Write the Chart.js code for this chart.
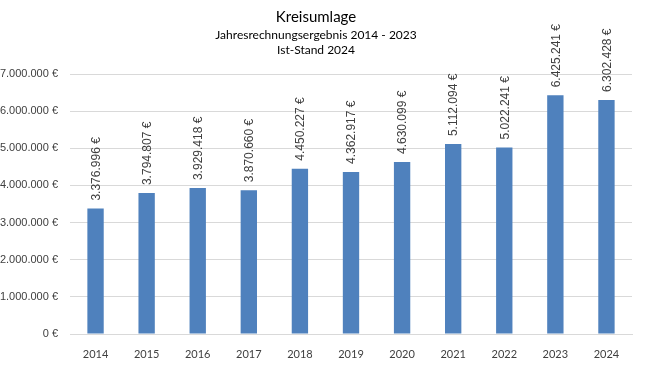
<!DOCTYPE html>
<html>
<head>
<meta charset="utf-8">
<script src="https://cdn.jsdelivr.net/npm/chart.js@4"></script>
<style>
  html, body { margin: 0; padding: 0; background: #fff; }
  #wrap { width: 646px; height: 365px; }
</style>
</head>
<body>
<div id="wrap"><canvas id="kreisChart" width="646" height="365"></canvas></div>
<script>
// Kreisumlage per year (EUR)
const years = ['2014', '2015', '2016', '2017', '2018', '2019', '2020', '2021', '2022', '2023', '2024'];
const amounts = [3376996, 3794807, 3929418, 3870660, 4450227, 4362917, 4630099, 5112094, 5022241, 6425241, 6302428];
const titleText = 'Kreisumlage';
const subtitleLines = ['Jahresrechnungsergebnis 2014 - 2023', 'Ist-Stand 2024'];

const fmtEuro = v => Math.round(v).toString().replace(/\B(?=(\d{3})+(?!\d))/g, '.') + ' €';

// draws the rotated value labels above each bar
const barLabels = {
    id: 'barLabels',
    afterDatasetsDraw(chart) {
        const ctx = chart.ctx;
        const meta = chart.getDatasetMeta(0);
        ctx.save();
        ctx.font = '12px "Liberation Sans", Arial, sans-serif';
        ctx.fillStyle = '#404040';
        ctx.textAlign = 'left';
        ctx.textBaseline = 'middle';
        meta.data.forEach((bar, i) => {
            ctx.save();
            ctx.translate(bar.x + 1, bar.y - 8);
            ctx.rotate(-Math.PI / 2);
            ctx.fillText(fmtEuro(amounts[i]), 0, 0);
            ctx.restore();
        });
        ctx.restore();
    }
};

new Chart(document.getElementById('kreisChart'), {
    type: 'bar',
    data: {
        labels: years,
        datasets: [{
            data: amounts,
            backgroundColor: '#4f81bd',
            categoryPercentage: 1,
            barPercentage: 0.32
        }]
    },
    options: {
        responsive: false,
        animation: false,
        layout: { padding: { left: 0, right: 14, top: 2, bottom: 0 } },
        plugins: {
            legend: { display: false },
            tooltip: { enabled: false },
            title: {
                display: true,
                text: titleText,
                color: '#000',
                font: { family: 'Lato', size: 15, weight: 'normal' },
                padding: { top: 6, bottom: 2 }
            },
            subtitle: {
                display: true,
                text: subtitleLines,
                color: '#000',
                font: { family: 'Lato', size: 12, lineHeight: 1.25 },
                padding: { bottom: 16 }
            }
        },
        scales: {
            x: {
                grid: { display: false },
                border: { color: '#d9d9d9' },
                ticks: { color: '#404040', font: { family: 'Lato', size: 11 }, padding: 6 },
                afterFit: s => { s.height = 31; }
            },
            y: {
                min: 0,
                max: 7000000,
                grid: { color: '#d9d9d9', drawTicks: false },
                border: { display: false },
                ticks: {
                    stepSize: 1000000,
                    color: '#404040',
                    padding: 12,
                    font: { family: '"Liberation Sans", Arial, sans-serif', size: 11 },
                    callback: v => fmtEuro(v)
                },
                afterFit: s => { s.width = 70; }
            }
        }
    },
    plugins: [barLabels]
});
</script>
</body>
</html>
